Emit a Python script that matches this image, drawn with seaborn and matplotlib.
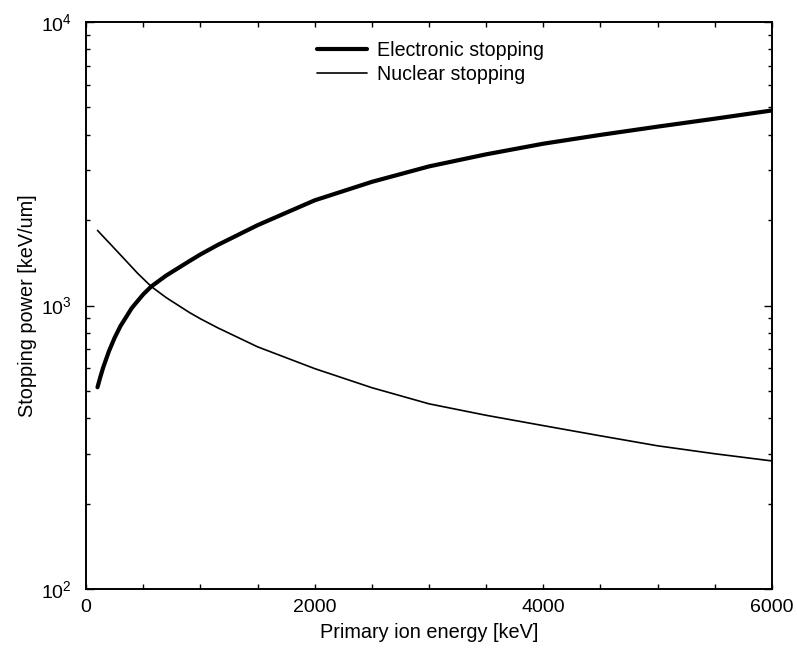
import matplotlib
matplotlib.use("Agg")
import matplotlib.pyplot as plt
import matplotlib.ticker as mticker
import numpy as np
import pandas as pd
import seaborn as sns

# Primary ion energy samples [keV] and stopping power [keV/um]
electronic_energy = [100, 125, 150, 200, 250, 300, 400, 500, 570, 700, 900, 1000, 1150,
                     1500, 2000, 2500, 3000, 3500, 4000, 4500, 5000, 5500, 6000]
electronic = [515, 560, 605, 690, 770, 845, 980, 1095, 1167, 1275, 1431, 1514, 1634,
              1920, 2350, 2730, 3095, 3414, 3722, 3998, 4275, 4560, 4875]

nuclear_energy = [100, 150, 200, 300, 450, 570, 700, 900, 1000, 1150, 1500, 2000, 2500,
                  3000, 3500, 4000, 4500, 5000, 5500, 6000]
nuclear = [1840, 1751, 1667, 1510, 1300, 1167, 1067, 947, 898, 835, 715, 599, 513,
           450, 410, 377, 347, 320, 300, 283]

series_names = ["Electronic stopping", "Nuclear stopping"]
x_tick_values = [0, 2000, 4000, 6000]
y_tick_values = [1e2, 1e3, 1e4]
y_tick_labels = ["$10^{2}$", "$10^{3}$", "$10^{4}$"]

sns.set_style("ticks")
plt.rcParams["font.family"] = ["Liberation Sans", "DejaVu Sans"]
plt.rcParams["mathtext.default"] = "regular"
plt.rcParams["text.color"] = "black"
plt.rcParams["axes.labelcolor"] = "black"

df = pd.concat([
    pd.DataFrame({"energy": electronic_energy, "power": electronic, "kind": series_names[0]}),
    pd.DataFrame({"energy": nuclear_energy, "power": nuclear, "kind": series_names[1]}),
])

fig = plt.figure(figsize=(7.97, 6.51), dpi=100)
ax = fig.add_axes([0.108, 0.0952, 0.8606, 0.8710])

sns.lineplot(data=df, x="energy", y="power", hue="kind", size="kind",
             sizes={series_names[0]: 3.0, series_names[1]: 1.2},
             palette={series_names[0]: "black", series_names[1]: "black"},
             estimator=None, sort=False, ax=ax)

ax.set_yscale("log")
ax.set_xlim(0, 6000)
ax.set_ylim(1e2, 1e4)

ax.set_xticks(x_tick_values)
ax.xaxis.set_minor_locator(mticker.MultipleLocator(500))
ax.set_yticks(y_tick_values)
ax.set_yticklabels(y_tick_labels)
ax.yaxis.set_minor_locator(mticker.LogLocator(base=10, subs=np.arange(2, 10)))
ax.yaxis.set_minor_formatter(mticker.NullFormatter())

ax.tick_params(which="both", direction="in", top=True, right=True,
               labelsize=14, width=1.0, colors="black")
ax.tick_params(axis="y", which="major", length=6, pad=10)
ax.tick_params(axis="y", which="minor", length=3)
ax.tick_params(axis="x", which="both", length=3.5, pad=7)

for side in ax.spines.values():
    side.set_linewidth(1.4)
    side.set_color("black")
    side.set_visible(True)

ax.set_xlabel("Primary ion energy [keV]", fontsize=14.3, labelpad=5)
ax.set_ylabel("Stopping power [keV/um]", fontsize=14.3, labelpad=3)

handles, labels = ax.get_legend_handles_labels()
ax.legend(handles=handles, labels=labels, loc="upper left",
          bbox_to_anchor=(0.3977, 0.937), bbox_transform=fig.transFigure,
          frameon=False, fontsize=14.1, borderpad=0, borderaxespad=0,
          handlelength=2.55, handletextpad=0.51, labelspacing=0.25)

fig.savefig("out.png", dpi=100, facecolor="white")
